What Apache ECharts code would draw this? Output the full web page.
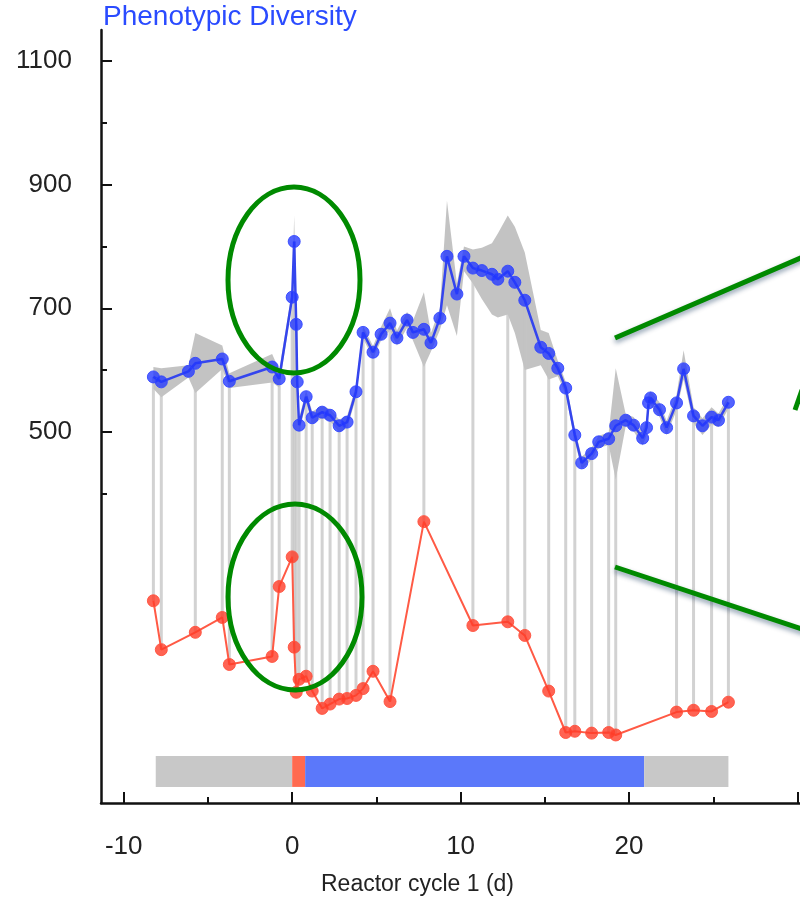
<!DOCTYPE html>
<html>
<head>
<meta charset="utf-8">
<script src="https://cdn.jsdelivr.net/npm/echarts@6/dist/echarts.min.js"></script>
<style>
  html, body { margin: 0; padding: 0; background: #fff; }
  #main { width: 800px; height: 904px; }
</style>
</head>
<body>
<div id="main"></div>
<script>
// sampling days (reactor cycle 1)
var days = [-8.24, -7.77, -6.16, -5.75, -4.15, -3.73, -1.19, -0.77,
  0, 0.12, 0.24, 0.30, 0.41, 0.83, 1.19, 1.78, 2.25, 2.79, 3.26, 3.79,
  4.21, 4.80, 5.28, 5.81, 6.22, 6.82, 7.17, 7.82, 8.24, 8.77, 9.19, 9.78,
  10.2, 10.73, 11.26, 11.86, 12.21, 12.80, 13.22, 13.81, 14.76, 15.23, 15.77, 16.24,
  16.78, 17.19, 17.78, 18.20, 18.79, 19.21, 19.80, 20.27, 20.81, 21.04, 21.16, 21.28,
  21.81, 22.23, 22.82, 23.24, 23.83, 24.36, 24.90, 25.31, 25.90];

// phenotypic diversity (blue)
var diversity = [589, 581, 598, 611, 618, 582, 605, 586,
  718, 808, 674, 581, 511, 557, 523, 532, 527, 510, 516, 565,
  661, 629, 658, 676, 652, 681, 661, 666, 644, 684, 784, 723,
  784, 765, 761, 755, 747, 760, 742, 713, 637, 627, 603, 571,
  495, 450, 465, 484, 489, 510, 519, 511, 490, 507, 547, 555,
  536, 507, 547, 602, 526, 510, 524, 519, 548];

// grey uncertainty band
var bandLow = [570, 556, 588, 563, 602, 571, 580, 572,
  708, 790, 662, 570, 500, 547, 513, 522, 517, 500, 506, 555,
  651, 619, 648, 664, 640, 668, 648, 605, 630, 665, 705, 655,
  760, 740, 715, 690, 685, 690, 660, 600, 608, 585, 590, 561,
  485, 440, 455, 474, 479, 423, 509, 501, 478, 495, 535, 543,
  524, 495, 535, 585, 514, 495, 512, 508, 538];
var bandHigh = [605, 603, 608, 660, 640, 595, 626, 600,
  730, 850, 688, 592, 522, 567, 533, 542, 537, 520, 526, 575,
  671, 639, 670, 700, 664, 694, 680, 726, 660, 700, 874, 740,
  800, 795, 798, 805, 821, 850, 832, 790, 665, 660, 615, 581,
  505, 460, 475, 494, 499, 603, 529, 524, 502, 520, 560, 566,
  548, 518, 560, 632, 540, 522, 540, 530, 558];

// second (unscaled) measure, red; null where not sampled
var secondary = [227, 148, null, 176, 200, 124, 137, 250,
  298, 152, 79, null, 100, 105, 81, 53, 60, 68, 69, 74,
  85, 113, null, 64, null, null, null, 355, null, null, null, null,
  null, 187, null, null, null, 193, null, 171, null, 81, null, 14,
  16, null, 13, null, 14, 10, null, null, null, null, null, null,
  null, null, 47, null, 50, null, 48, null, 63];

// feeding phases bar
var phaseFrom = [-8.1, 0, 0.77, 20.9];
var phaseTo = [0, 0.77, 20.9, 25.9];
var phaseColors = ['#c8c8c8', '#ff6a50', '#5b78fa', '#c8c8c8'];

var xMajor = [-10, 0, 10, 20, 30];
var xMinor = [-5, 5, 15, 25];
var xLabels = [-10, 0, 10, 20];
var yMajor = [500, 700, 900, 1100];
var yMinor = [400, 600, 800, 1000];

var FONT = 'Liberation Sans, Arial, sans-serif';

var blueData = days.map(function (d, i) { return [d, diversity[i]]; });
var redData = [];
var stemData = [];
days.forEach(function (d, i) {
  if (secondary[i] != null) {
    redData.push([d, secondary[i]]);
    stemData.push([d, secondary[i], diversity[i]]);
  }
});
var phaseData = phaseFrom.map(function (f, i) { return [f, phaseTo[i], i]; });

var myChart = echarts.init(document.getElementById('main'));

var plotBox = { left: 101, right: 0, top: 30, bottom: 101 };

myChart.setOption({
  animation: false,
  title: {
    text: 'Phenotypic Diversity',
    left: 103, top: 3, padding: 0,
    textStyle: { fontFamily: FONT, fontSize: 28, fontWeight: 'normal', color: '#2a4bff' }
  },
  grid: [plotBox, plotBox],
  xAxis: [{
    type: 'value', min: -11.35, max: 30.15, gridIndex: 0,
    axisLine: { onZero: false, lineStyle: { color: '#111', width: 2.5 } },
    axisTick: { inside: true, length: 11, customValues: xMajor, lineStyle: { color: '#111', width: 2 } },
    axisLabel: { customValues: xLabels, fontFamily: FONT, fontSize: 26, color: '#222', margin: 31,
      formatter: function (v) { return String(v); } },
    splitLine: { show: false },
    name: 'Reactor cycle 1 (d)', nameLocation: 'middle', nameGap: 70,
    nameTextStyle: { fontFamily: FONT, fontSize: 23, color: '#222', padding: [0, 66, 0, 0] }
  }, {
    type: 'value', min: -11.35, max: 30.15, gridIndex: 1,
    axisLine: { show: false, onZero: false },
    axisTick: { inside: true, length: 6, customValues: xMinor, lineStyle: { color: '#111', width: 2 } },
    axisLabel: { show: false },
    splitLine: { show: false }
  }],
  yAxis: [{
    type: 'value', min: -100, max: 1150, gridIndex: 0,
    axisLine: { show: true, onZero: false, lineStyle: { color: '#111', width: 2.5 } },
    axisTick: { show: true, inside: true, length: 11, customValues: yMajor, lineStyle: { color: '#111', width: 2 } },
    axisLabel: { customValues: yMajor, fontFamily: FONT, fontSize: 26, color: '#222', margin: 29,
      formatter: function (v) { return String(v); } },
    splitLine: { show: false }
  }, {
    type: 'value', min: -100, max: 1150, gridIndex: 1,
    axisLine: { show: false, onZero: false },
    axisTick: { show: true, inside: true, length: 6, customValues: yMinor, lineStyle: { color: '#111', width: 2 } },
    axisLabel: { show: false },
    splitLine: { show: false }
  }],
  series: [
    {
      // grey band around the blue curve
      type: 'custom', name: 'band', z: 1,
      data: [[days[0], diversity[0]]],
      renderItem: function (params, api) {
        var pts = [];
        for (var i = 0; i < days.length; i++) pts.push(api.coord([days[i], bandHigh[i]]));
        for (var j = days.length - 1; j >= 0; j--) pts.push(api.coord([days[j], bandLow[j]]));
        return { type: 'polygon', shape: { points: pts }, style: { fill: 'rgba(180,180,180,0.8)' } };
      }
    },
    {
      // stems joining both measures of a sample
      type: 'custom', name: 'stems', z: 2,
      data: stemData,
      encode: { x: 0, y: [1, 2] },
      renderItem: function (params, api) {
        var a = api.coord([api.value(0), api.value(1)]);
        var b = api.coord([api.value(0), api.value(2)]);
        return {
          type: 'line',
          shape: { x1: a[0], y1: a[1], x2: b[0], y2: b[1] },
          style: { stroke: 'rgba(195,195,195,0.75)', lineWidth: 3 }
        };
      }
    },
    {
      type: 'line', name: 'secondary', z: 3,
      data: redData,
      symbol: 'circle', symbolSize: 12,
      lineStyle: { color: '#ff5a45', width: 2 },
      itemStyle: { color: 'rgba(255,60,40,0.8)', borderColor: 'rgba(255,80,60,0.9)', borderWidth: 1 }
    },
    {
      type: 'line', name: 'diversity', z: 4,
      data: blueData,
      symbol: 'circle', symbolSize: 12,
      lineStyle: { color: '#3445ee', width: 2.5 },
      itemStyle: { color: 'rgba(35,55,255,0.78)', borderColor: 'rgba(50,70,255,0.9)', borderWidth: 1 }
    },
    {
      // feeding phases bar at the bottom
      type: 'custom', name: 'phases', z: 5,
      data: phaseData,
      encode: { x: [0, 1] },
      renderItem: function (params, api) {
        var p0 = api.coord([api.value(0), -24]);
        var p1 = api.coord([api.value(1), -74]);
        return {
          type: 'rect',
          shape: { x: p0[0], y: p0[1], width: p1[0] - p0[0], height: p1[1] - p0[1] },
          style: { fill: phaseColors[api.value(2)] }
        };
      }
    }
  ],
  graphic: [
    { type: 'ellipse', z: 100, shape: { cx: 294, cy: 280, rx: 66, ry: 93 },
      style: { fill: 'none', stroke: '#008a00', lineWidth: 5 } },
    { type: 'ellipse', z: 100, shape: { cx: 295, cy: 597, rx: 67, ry: 93 },
      style: { fill: 'none', stroke: '#008a00', lineWidth: 5 } },
    { type: 'line', z: 100, shape: { x1: 615, y1: 338, x2: 805, y2: 256 },
      style: { stroke: '#008a00', lineWidth: 5, shadowBlur: 5, shadowOffsetY: 3, shadowColor: 'rgba(0,40,80,0.45)' } },
    { type: 'line', z: 100, shape: { x1: 615, y1: 567, x2: 805, y2: 630 },
      style: { stroke: '#008a00', lineWidth: 5, shadowBlur: 5, shadowOffsetY: 3, shadowColor: 'rgba(0,40,80,0.45)' } },
    { type: 'line', z: 100, shape: { x1: 795, y1: 410, x2: 802, y2: 390 },
      style: { stroke: '#008a00', lineWidth: 5 } }
  ]
});
</script>
</body>
</html>
